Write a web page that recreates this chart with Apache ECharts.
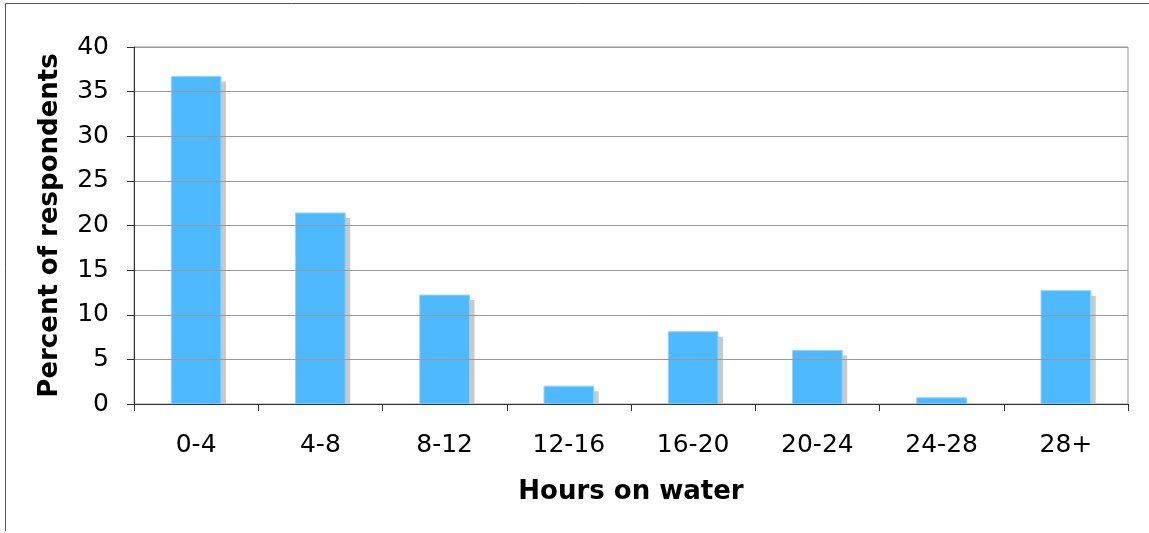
<!DOCTYPE html>
<html>
<head>
<meta charset="utf-8">
<script src="https://cdn.jsdelivr.net/npm/echarts@6/dist/echarts.min.js"></script>
<style>html,body{margin:0;padding:0;background:#fff;}#c{width:1149px;height:533px;}</style>
</head>
<body>
<div id="c"></div>
<script>
var categories = ['0-4','4-8','8-12','12-16','16-20','20-24','24-28','28+'];
var percents = [36.7, 21.4, 12.2, 2.0, 8.1, 6.0, 0.7, 12.7];
var yTicks = {min: 0, max: 40, step: 5};

var chart = echarts.init(document.getElementById('c'), null, {renderer: 'canvas'});
var font = 'DejaVu Sans, Verdana, sans-serif';

function renderBar(params, api) {
  var cat = api.value(0);
  var val = api.value(1);
  var top = api.coord([cat, val]);
  var base = api.coord([cat, 0]);
  var band = api.size([1, 0])[0];
  var w = band * 0.4;
  var x0 = top[0] - w / 2;
  var h = base[1] - top[1];
  var sh = Math.max(0, h - 5);
  return {
    type: 'group',
    children: [
      {type: 'rect', shape: {x: x0 + 5, y: top[1] + 5, width: w, height: sh}, style: {fill: '#c9c9c9'}},
      {type: 'rect', shape: {x: x0, y: top[1], width: w, height: h}, style: {fill: '#4fb9ff', stroke: '#8fd5ff', lineWidth: 1}}
    ]
  };
}

chart.setOption({
  animation: false,
  backgroundColor: '#fff',
  graphic: [
    {type: 'line', shape: {x1: 5.5, y1: 3.5, x2: 1149, y2: 3.5}, style: {stroke: '#555', lineWidth: 1}, silent: true, z: 100},
    {type: 'line', shape: {x1: 5.5, y1: 3.5, x2: 5.5, y2: 531}, style: {stroke: '#555', lineWidth: 1}, silent: true, z: 100}
  ],
  grid: {left: 134, top: 47, right: 21, bottom: 129, show: true, borderColor: '#999', borderWidth: 1, backgroundColor: 'transparent'},
  xAxis: {
    type: 'category',
    data: categories,
    boundaryGap: true,
    name: 'Hours on water',
    nameLocation: 'middle',
    nameGap: 75,
    nameTextStyle: {fontFamily: font, fontSize: 26, fontWeight: 'bold', color: '#000'},
    axisLine: {show: true, lineStyle: {color: '#333', width: 1}},
    axisTick: {show: true, interval: 0, length: 7, lineStyle: {color: '#333'}},
    axisLabel: {interval: 0, margin: 27, fontFamily: font, fontSize: 25, lineHeight: 28, color: '#000'},
    splitLine: {show: false},
    z: 10
  },
  yAxis: {
    type: 'value',
    min: yTicks.min, max: yTicks.max, interval: yTicks.step,
    name: 'Percent of respondents',
    nameLocation: 'middle',
    nameGap: 71,
    nameRotate: 90,
    nameTextStyle: {fontFamily: font, fontSize: 26, fontWeight: 'bold', color: '#000'},
    axisLine: {show: true, lineStyle: {color: '#333', width: 1}},
    axisTick: {show: true, length: 7, lineStyle: {color: '#333'}},
    axisLabel: {margin: 25, fontFamily: font, fontSize: 25, color: '#000'},
    splitLine: {show: true, lineStyle: {color: '#999', width: 1}},
    z: 10
  },
  series: [{
    type: 'custom',
    renderItem: renderBar,
    encode: {x: 0, y: 1},
    data: percents.map(function (v, i) { return [i, v]; }),
    z: 2
  }]
});
</script>
</body>
</html>
